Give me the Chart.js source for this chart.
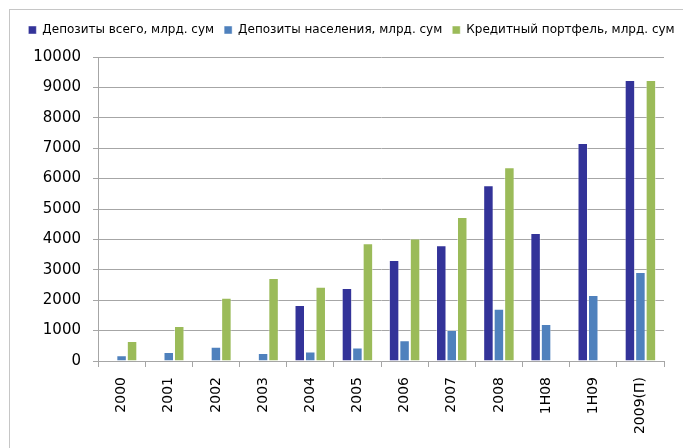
<!DOCTYPE html>
<html>
<head>
<meta charset="utf-8">
<script src="https://cdn.jsdelivr.net/npm/chart.js@4.4.1/dist/chart.umd.min.js"></script>
<style>
  html, body { margin: 0; padding: 0; background: #fff; }
  #wrap { position: relative; width: 683px; height: 448px; overflow: hidden; }
  #frame { position: absolute; left: 9px; top: 9px; width: 720px; height: 500px; border: 1px solid #c6c6c6; }
  #chart { position: absolute; left: 0; top: 0; }
</style>
</head>
<body>
<div id="wrap">
  <div id="frame"></div>
  <canvas id="chart" width="683" height="448"></canvas>
</div>
<script>
// Категории и ряды (млрд. сум)
const labels = ['2000', '2001', '2002', '2003', '2004', '2005', '2006', '2007', '2008', '1H08', '1H09', '2009(П)'];
const depTotal = [null, null, null, null, 1840, 2400, 3320, 3810, 5780, 4210, 7170, 9240];
const depPop = [190, 300, 470, 260, 310, 440, 680, 1020, 1720, 1220, 2170, 2930];
const credit = [660, 1150, 2080, 2730, 2440, 3870, 4030, 4740, 6370, null, null, 9240];
const yTicks = [0, 1000, 2000, 3000, 4000, 5000, 6000, 7000, 8000, 9000, 10000];

const COLORS = {
    total: '#333399',
    pop: '#4f81bd',
    credit: '#9bbb59'
};

// отступ под легендой и сдвиг легенды вправо
const legendTweak = {
    id: 'legendTweak',
    beforeInit(chart) {
        const fit = chart.legend.fit;
        chart.legend.fit = function() {
            fit.bind(chart.legend)();
            this.height += 11;
        };
    },
    afterUpdate(chart) {
        const lg = chart.legend;
        lg.left += 10;
        lg.right += 10;
        lg.adjustHitBoxes();
    }
};

const ctx = document.getElementById('chart').getContext('2d');

function makeSet(label, data, color) {
    return {
        label: label,
        data: data,
        backgroundColor: color,
        borderColor: 'rgba(255,255,255,0.45)',
        borderWidth: 1,
        categoryPercentage: 0.667,
        barPercentage: 1.0
    };
}

new Chart(ctx, {
    type: 'bar',
    data: {
        labels: labels,
        datasets: [
            makeSet('Депозиты всего, млрд. сум', depTotal, COLORS.total),
            makeSet('Депозиты населения, млрд. сум', depPop, COLORS.pop),
            makeSet('Кредитный портфель, млрд. сум', credit, COLORS.credit)
        ]
    },
    plugins: [legendTweak],
    options: {
        responsive: false,
        animation: false,
        layout: {
            padding: { top: 14, right: 0, left: 0, bottom: 0 }
        },
        plugins: {
            legend: {
                position: 'top',
                labels: {
                    boxWidth: 8,
                    boxHeight: 8,
                    padding: 10,
                    color: '#000',
                    font: { family: 'DejaVu Sans', size: 12 }
                }
            },
            tooltip: { enabled: false }
        },
        scales: {
            x: {
                grid: {
                    display: true,
                    drawOnChartArea: false,
                    offset: true,
                    tickLength: 6,
                    color: '#a6a6a6'
                },
                border: { color: '#a6a6a6' },
                ticks: {
                    minRotation: 90,
                    maxRotation: 90,
                    padding: 10,
                    color: '#000',
                    font: { family: 'DejaVu Sans', size: 14 }
                },
                afterFit: function(scale) { scale.height = 87; }
            },
            y: {
                min: 0,
                max: 10000,
                afterBuildTicks: function(scale) {
                    scale.ticks = yTicks.map(v => ({ value: v }));
                },
                grid: {
                    color: '#a6a6a6',
                    tickLength: 5
                },
                border: { color: '#a6a6a6' },
                ticks: {
                    padding: 12,
                    color: '#000',
                    font: { family: 'DejaVu Sans', size: 15 },
                    callback: function(value) { return String(value); }
                },
                afterFit: function(scale) { scale.width = 98; }
            },
            // пустая правая ось — только отступ справа от области графика
            yRight: {
                position: 'right',
                display: true,
                grid: { display: false },
                border: { display: false },
                ticks: { display: false },
                afterFit: function(scale) { scale.width = 19; }
            }
        }
    }
});
</script>
</body>
</html>
